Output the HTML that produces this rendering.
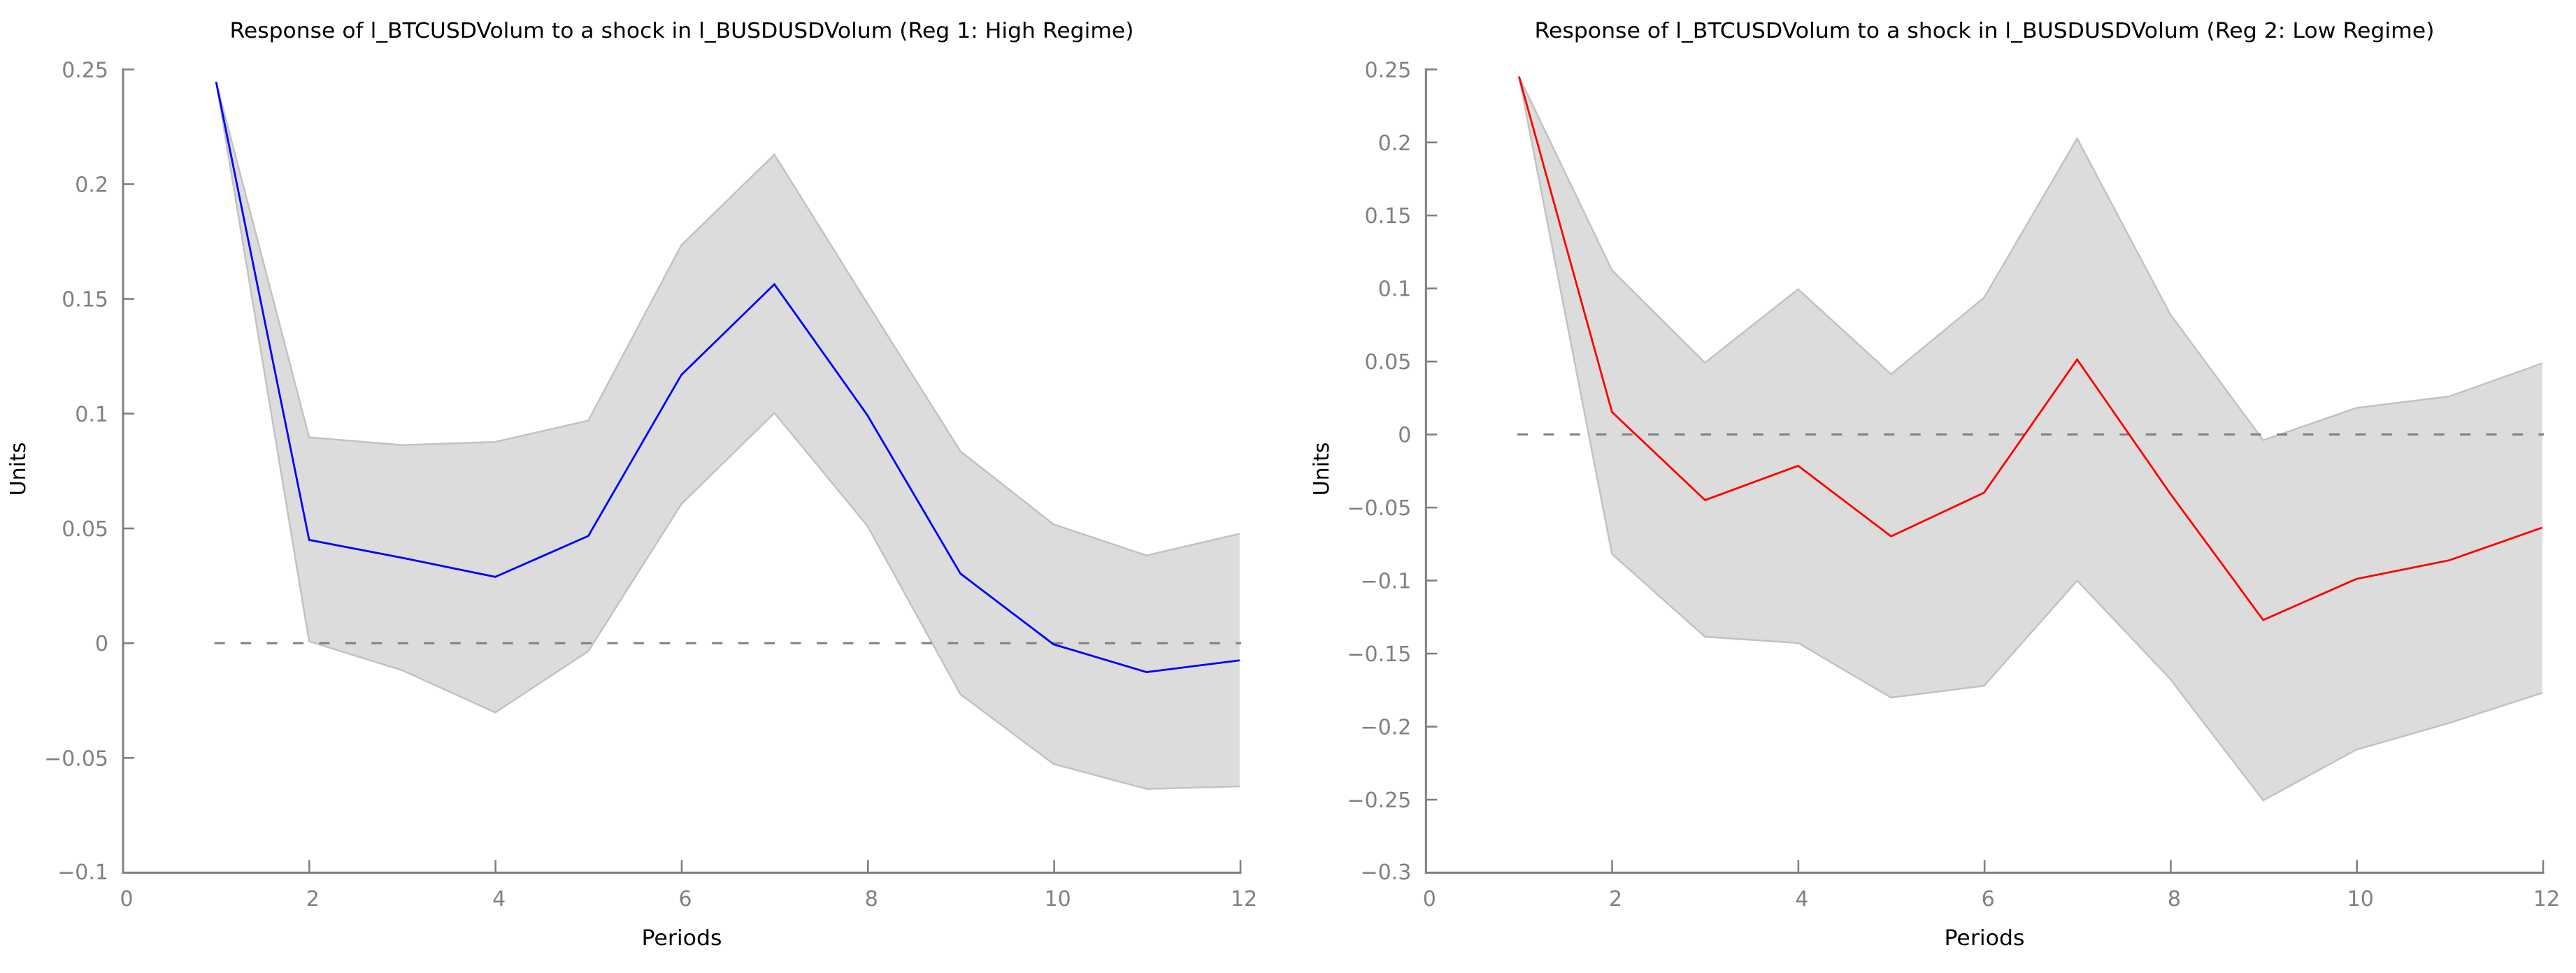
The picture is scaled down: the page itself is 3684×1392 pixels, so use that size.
<!DOCTYPE html>
<html lang="en">
<head>
<meta charset="utf-8">
<title>Impulse responses by regime</title>
<style>
  html, body { margin: 0; padding: 0; background: #fff; width: 3684px; height: 1392px; overflow: hidden; }
  svg { display: block; }
  text { font-family: "DejaVu Sans", "Liberation Sans", sans-serif; font-size: 30px; }
  .chart-title, .axis-title { fill: #000; }
  .tick-label { fill: #808080; }
</style>
</head>
<body>
<svg id="figure" xmlns="http://www.w3.org/2000/svg" width="3684" height="1392" viewBox="0 0 3684 1392">
  <rect x="0" y="0" width="3684" height="1392" fill="#ffffff"/>
  <g id="panel-high">
    <text class="chart-title" x="975" y="54" text-anchor="middle" textLength="1293" lengthAdjust="spacingAndGlyphs">Response of l_BTCUSDVolum to a shock in l_BUSDUSDVolum (Reg 1: High Regime)</text>
    <text class="axis-title" x="975" y="1352" text-anchor="middle" textLength="115" lengthAdjust="spacingAndGlyphs">Periods</text>
    <text class="axis-title" transform="translate(36 671) rotate(-90)" text-anchor="middle">Units</text>
  </g>
  <g id="panel-low">
    <text class="chart-title" x="2838" y="54" text-anchor="middle" textLength="1287" lengthAdjust="spacingAndGlyphs">Response of l_BTCUSDVolum to a shock in l_BUSDUSDVolum (Reg 2: Low Regime)</text>
    <text class="axis-title" x="2838" y="1352" text-anchor="middle" textLength="115" lengthAdjust="spacingAndGlyphs">Periods</text>
    <text class="axis-title" transform="translate(1900 671) rotate(-90)" text-anchor="middle">Units</text>
  </g>
</svg>
<script>
// Shared horizontal axis
const periods = [1, 2, 3, 4, 5, 6, 7, 8, 9, 10, 11, 12];
const xTickValues = [0, 2, 4, 6, 8, 10, 12];
const xTickLabels = ['0', '2', '4', '6', '8', '10', '12'];

// Panel 1: High regime
const highResponse = [0.2446, 0.045, 0.0372, 0.0289, 0.0467, 0.1169, 0.1564, 0.0993, 0.0303, -0.0005, -0.0126, -0.0075];
const highUpper = [0.2446, 0.0897, 0.0863, 0.0877, 0.097, 0.1734, 0.2129, 0.148, 0.0836, 0.0518, 0.0382, 0.0477];
const highLower = [0.2446, 0.0008, -0.0118, -0.0302, -0.0035, 0.0606, 0.1003, 0.0511, -0.0223, -0.0526, -0.0635, -0.0624];
const highYTickValues = [0.25, 0.2, 0.15, 0.1, 0.05, 0, -0.05, -0.1];
const highYTickLabels = ['0.25', '0.2', '0.15', '0.1', '0.05', '0', '\u22120.05', '\u22120.1'];

// Panel 2: Low regime
const lowResponse = [0.2451, 0.0154, -0.0449, -0.0214, -0.0697, -0.0398, 0.0514, -0.0404, -0.127, -0.0989, -0.0861, -0.0637];
const lowUpper = [0.2451, 0.1124, 0.0492, 0.0995, 0.0413, 0.0938, 0.2027, 0.0824, -0.0039, 0.0182, 0.0261, 0.0488];
const lowLower = [0.2451, -0.0818, -0.1385, -0.1427, -0.1801, -0.172, -0.1, -0.1673, -0.2505, -0.2158, -0.1975, -0.1769];
const lowYTickValues = [0.25, 0.2, 0.15, 0.1, 0.05, 0, -0.05, -0.1, -0.15, -0.2, -0.25, -0.3];
const lowYTickLabels = ['0.25', '0.2', '0.15', '0.1', '0.05', '0', '\u22120.05', '\u22120.1', '\u22120.15', '\u22120.2', '\u22120.25', '\u22120.3'];

const SVG_NS = 'http://www.w3.org/2000/svg';
const AXIS_COLOR = '#808080';

function make(tag, attrs, parent) {
  const el = document.createElementNS(SVG_NS, tag);
  Object.keys(attrs).forEach(function (k) { el.setAttribute(k, attrs[k]); });
  parent.appendChild(el);
  return el;
}

function linearScale(d0, d1, r0, r1) {
  return function (v) { return r0 + (v - d0) * (r1 - r0) / (d1 - d0); };
}

function pointsOf(xs, ys, sx, sy) {
  return xs.map(function (x, i) { return sx(x).toFixed(2) + ',' + sy(ys[i]).toFixed(2); });
}

function drawPanel(parent, opt) {
  const sx = linearScale(0, 12, opt.left, opt.right);
  const sxData = linearScale(0, 12, opt.left, opt.right - 1.2);
  const yMax = opt.yValues[0];
  const yMin = opt.yValues[opt.yValues.length - 1];
  const sy = linearScale(yMax, yMin, opt.top, opt.bottom);

  // Confidence band: upper edge forward, lower edge back
  const upperPts = pointsOf(periods, opt.upper, sxData, sy);
  const lowerPts = pointsOf(periods, opt.lower, sxData, sy).reverse();
  const band = make('polygon', {
    points: upperPts.concat(lowerPts).join(' '),
    fill: '#dcdcdc',
    stroke: 'none'
  }, parent);
  
  

  const upperEdge = make('polyline', {
    points: upperPts.join(' '),
    fill: 'none',
    stroke: '#c2c2c2',
    'stroke-width': 2.5
  }, parent);
  
  

  const lowerEdge = make('polyline', {
    points: lowerPts.join(' '),
    fill: 'none',
    stroke: '#c2c2c2',
    'stroke-width': 2.5
  }, parent);
  
  

  // Zero reference line
  const zero = make('line', {
    x1: sx(periods[0]) - 2.5,
    x2: sx(periods[periods.length - 1]) + 1,
    y1: sy(0),
    y2: sy(0),
    stroke: AXIS_COLOR,
    'stroke-width': 3,
    'stroke-dasharray': '15 22.45'
  }, parent);
  
  

  // Response line
  const line = make('polyline', {
    points: pointsOf(periods, opt.response, sxData, sy).join(' '),
    fill: 'none',
    stroke: opt.color,
    'stroke-width': 2.8,
    'stroke-linejoin': 'miter'
  }, parent);
  
  

  // Axis lines
  const yAxis = make('line', {
    x1: opt.left, x2: opt.left, y1: opt.top - 1.5, y2: opt.bottom + 1.5,
    stroke: AXIS_COLOR, 'stroke-width': 3
  }, parent);
  
  

  const xAxis = make('line', {
    x1: opt.left - 1.5, x2: opt.right + 1.5, y1: opt.bottom, y2: opt.bottom,
    stroke: AXIS_COLOR, 'stroke-width': 3
  }, parent);
  
  

  // Y ticks and labels
  opt.yValues.forEach(function (v, i) {
    const isLast = i === opt.yValues.length - 1;
    if (!isLast) {
      const tick = make('line', {
        x1: opt.left, x2: opt.left + 16, y1: sy(v), y2: sy(v),
        stroke: AXIS_COLOR, 'stroke-width': 2.6
      }, parent);
      
      
    }
    const label = make('text', {
      x: opt.left - 21,
      y: sy(v) + (isLast ? 9.5 : 11),
      'text-anchor': 'end',
      class: 'tick-label'
    }, parent);
    label.textContent = opt.yLabels[i];
    
    
  });

  // X ticks and labels
  xTickValues.forEach(function (v, i) {
    if (v !== 0) {
      const tick = make('line', {
        x1: sx(v), x2: sx(v), y1: opt.bottom, y2: opt.bottom - 18,
        stroke: AXIS_COLOR, 'stroke-width': 2.6
      }, parent);
      
      
    }
    const label = make('text', {
      x: sx(v) + 5,
      y: 1296,
      'text-anchor': 'middle',
      class: 'tick-label'
    }, parent);
    label.textContent = xTickLabels[i];
    
    
  });
}

drawPanel(document.getElementById('panel-high'), {
  left: 176, right: 1774, top: 99.3, bottom: 1248.5,
  response: highResponse, upper: highUpper, lower: highLower,
  yValues: highYTickValues, yLabels: highYTickLabels, color: '#0000ff'
});
drawPanel(document.getElementById('panel-low'), {
  left: 2039.3, right: 3637, top: 99.3, bottom: 1248.5,
  response: lowResponse, upper: lowUpper, lower: lowLower,
  yValues: lowYTickValues, yLabels: lowYTickLabels, color: '#ff0000'
});
</script>
</body>
</html>
